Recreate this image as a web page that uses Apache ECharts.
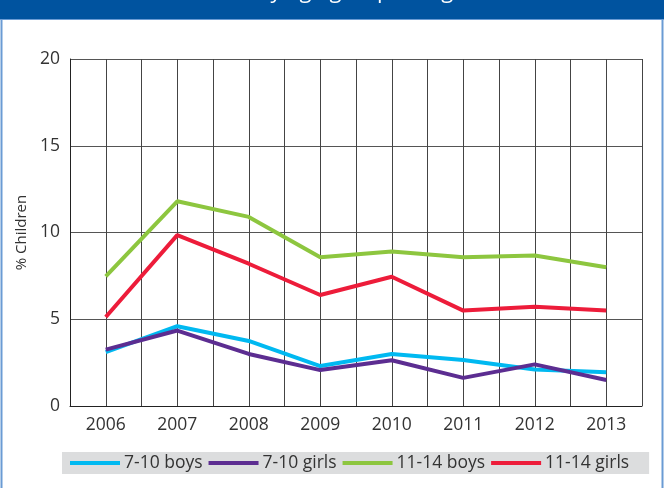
<!DOCTYPE html>
<html>
<head>
<meta charset="utf-8">
<script src="https://cdn.jsdelivr.net/npm/echarts@6/dist/echarts.min.js"></script>
<style>
  html, body { margin: 0; padding: 0; background: #fff; }
  #chart { width: 664px; height: 488px; }
</style>
</head>
<body>
<div id="chart"></div>
<script>
  // data
  var years = [2006, 2007, 2008, 2009, 2010, 2011, 2012, 2013];
  var boys710 = [3.1, 4.6, 3.75, 2.3, 3.0, 2.65, 2.1, 1.95];
  var girls710 = [3.25, 4.35, 3.0, 2.07, 2.64, 1.62, 2.4, 1.5];
  var boys1114 = [7.47, 11.8, 10.9, 8.58, 8.9, 8.58, 8.68, 8.0];
  var girls1114 = [5.13, 9.85, 8.2, 6.4, 7.45, 5.5, 5.72, 5.5];
  var seriesNames = ['7-10 boys', '7-10 girls', '11-14 boys', '11-14 girls'];
  var seriesColors = ['#00b9f1', '#5c2d91', '#8dc63f', '#ed1c3a'];

  var font = '"Open Sans", sans-serif';

  function pairs(vals) {
    return vals.map(function (v, i) { return [years[i], v]; });
  }

  var allData = [boys710, girls710, boys1114, girls1114];

  var myChart = echarts.init(document.getElementById('chart'), null, {renderer: 'canvas'});

  myChart.setOption({
    backgroundColor: '#fff',
    animation: false,
    title: {
      text: 'by age group and gender',
      left: 252,
      top: -24,
      textStyle: {color: '#fff', fontSize: 22, fontFamily: font, fontWeight: 'normal'}
    },
    graphic: [
      // header bar + side borders
      {type: 'rect', shape: {x: 0, y: 0, width: 664, height: 19}, style: {fill: '#00539f'}, z: -1},
      {type: 'line', shape: {x1: 0, y1: 19.5, x2: 664, y2: 19.5}, style: {stroke: '#6a9bd4', lineWidth: 1}},
      {type: 'line', shape: {x1: 1.5, y1: 19, x2: 1.5, y2: 488}, style: {stroke: '#6a9bd4', lineWidth: 2}},
      {type: 'line', shape: {x1: 662.5, y1: 19, x2: 662.5, y2: 488}, style: {stroke: '#6a9bd4', lineWidth: 2}}
    ],
    grid: {left: 70, right: 22, top: 59, bottom: 82, containLabel: false},
    legend: {
      data: seriesNames,
      left: 62,
      top: 452,
      padding: [2, 20, 2, 8],
      itemGap: 6,
      itemWidth: 50,
      itemHeight: 4,
      icon: 'rect',
      backgroundColor: '#dcddde',
      textStyle: {fontSize: 17.5, color: '#333', fontFamily: font, padding: [0, 0, 0, -1]}
    },
    xAxis: {
      type: 'value',
      min: 2005.5,
      max: 2013.5,
      interval: 0.5,
      axisLine: {show: true, lineStyle: {color: '#222', width: 1}},
      axisTick: {show: false},
      splitLine: {show: true, lineStyle: {color: '#444', width: 1}},
      axisLabel: {
        margin: 10,
        fontSize: 17.5,
        color: '#333',
        fontFamily: font,
        showMinLabel: true,
        showMaxLabel: true,
        formatter: function (v) {
          return Math.round(v) === v ? String(v) : '';
        }
      }
    },
    yAxis: {
      type: 'value',
      min: 0,
      max: 20,
      interval: 5,
      name: '% Children',
      nameLocation: 'middle',
      nameGap: 41,
      nameTextStyle: {fontSize: 15, color: '#333', fontFamily: font},
      axisLine: {show: true, lineStyle: {color: '#222', width: 1}},
      axisTick: {show: false},
      splitLine: {show: true, lineStyle: {color: '#555', width: 1}},
      axisLabel: {margin: 10, fontSize: 17.5, color: '#333', fontFamily: font}
    },
    series: allData.map(function (vals, i) {
      return {
        name: seriesNames[i],
        type: 'line',
        data: pairs(vals),
        showSymbol: false,
        symbol: 'none',
        color: seriesColors[i],
        lineStyle: {width: 4, color: seriesColors[i]}
      };
    })
  });
</script>
</body>
</html>
